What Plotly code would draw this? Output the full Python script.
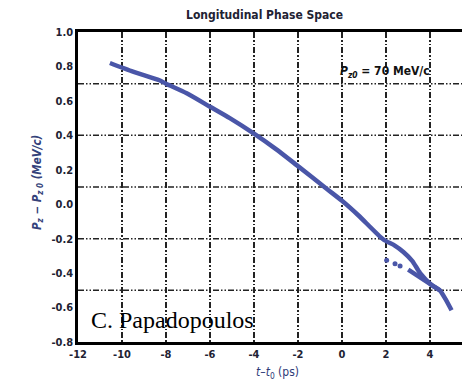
import plotly.graph_objects as go

# main curve (t - t0 in ps, Pz - Pz0 in MeV/c)
main_t = [-10.55, -9.5, -8.3, -8.0, -7.06, -6.0, -5.1, -4.0, -3.0, -2.06, -0.7, 0.0, 0.74, 1.88, 2.4, 2.79, 3.2, 3.55, 4.08, 4.45, 4.7, 4.98]
main_p = [0.82, 0.77, 0.72, 0.70, 0.644, 0.566, 0.50, 0.41, 0.32, 0.227, 0.09, 0.02, -0.064, -0.205, -0.24, -0.277, -0.33, -0.40, -0.47, -0.50, -0.55, -0.616]
# dotted returning branch
dots_t = [2.03, 2.41, 2.64]
dots_p = [-0.326, -0.345, -0.358]
# solid returning branch
branch_t = [3.01, 3.5, 4.08, 4.45]
branch_p = [-0.38, -0.42, -0.47, -0.50]

x_tickvals = [-12, -10, -8, -6, -4, -2, 0, 2, 4, 6]
x_ticktext = ["-12", "-10", "-8", "-6", "-4", "-2", "0", "2", "4", "6"]
y_tickvals = [1.0, 0.8, 0.6, 0.4, 0.2, 0.0, -0.2, -0.4, -0.6, -0.8]
y_ticktext = ["1.0", "0.8", "0.6", "0.4", "0.2", "0.0", "-0.2", "-0.4", "-0.6", "-0.8"]
grid_y = [0.7, 0.4, 0.1, -0.2, -0.5]

line_color = "#4a56a8"
narrow = "DejaVu Sans Condensed, Liberation Sans Narrow, sans-serif"
grid_dash = "6px,2px,1.5px,2px,1.5px,2px"

fig = go.Figure()
fig.add_trace(go.Scatter(x=main_t, y=main_p, mode="lines",
                         line=dict(color=line_color, width=4.5, shape="spline", smoothing=0.6),
                         showlegend=False, hoverinfo="skip"))
fig.add_trace(go.Scatter(x=dots_t, y=dots_p, mode="markers",
                         marker=dict(color=line_color, size=5),
                         showlegend=False, hoverinfo="skip"))
fig.add_trace(go.Scatter(x=branch_t, y=branch_p, mode="lines",
                         line=dict(color=line_color, width=4.5),
                         showlegend=False, hoverinfo="skip"))

for gy in grid_y:
    fig.add_shape(type="line", xref="paper", x0=0, x1=1, yref="y", y0=gy, y1=gy,
                  line=dict(color="#222222", width=1.5, dash=grid_dash), layer="below")

# the page body adds an 8px offset, so the figure is 8px smaller and margins reduced
fig.update_layout(
    width=462, height=372,
    margin=dict(l=70, r=0, t=24, b=38),
    plot_bgcolor="white", paper_bgcolor="white",
    xaxis=dict(range=[-12, 5.818], tickvals=x_tickvals, ticktext=x_ticktext,
               showgrid=True, gridcolor="#222222", gridwidth=1.5, griddash=grid_dash,
               showline=True, linecolor="black", linewidth=2.5, mirror=True,
               zeroline=False, ticks="", ticklen=0,
               tickfont=dict(family=narrow, size=11, color="#222233", weight="bold")),
    yaxis=dict(range=[-0.8, 1.0], tickvals=y_tickvals, ticktext=y_ticktext,
               showgrid=False, showline=True, linecolor="black", linewidth=2.5,
               mirror=False, zeroline=False, ticks="", ticklen=0,
               tickfont=dict(family=narrow, size=11, color="#222233", weight="bold")),
)

# title
fig.add_annotation(x=0.477, y=1.055, xref="paper", yref="paper", xanchor="center", yanchor="middle",
                   text="<b>Longitudinal Phase Space</b>", showarrow=False,
                   font=dict(family=narrow, size=12, color="#222233"))
# axis titles
fig.add_annotation(x=-2.93, y=-0.1, xref="x", yref="paper", xanchor="center", yanchor="middle",
                   text="<i>t</i>–<i>t</i><sub>0</sub> (ps)", showarrow=False,
                   font=dict(family=narrow, size=12, color="#2e3a78"))
fig.add_annotation(x=-0.105, y=0.128, xref="paper", yref="y", xanchor="center", yanchor="middle",
                   text="<i>P<sub>z</sub> − P<sub>z 0</sub> (MeV/c)</i>", showarrow=False, textangle=-90,
                   font=dict(family=narrow, size=11.5, color="#34427a", weight="bold"))

fig.add_annotation(x=-0.18, y=0.77, xref="x", yref="y", xanchor="left", yanchor="middle",
                   text="<i>P</i><sub><i>z0</i></sub> = 70 MeV/c", showarrow=False,
                   font=dict(family=narrow, size=12, color="#111111", weight="bold"))
fig.add_annotation(x=-11.5, y=-0.675, xref="x", yref="y", xanchor="left", yanchor="middle",
                   text="C. Papadopoulos", showarrow=False,
                   font=dict(family="Liberation Serif, Times New Roman, serif", size=24, color="black"))

fig.write_html("out.html")
